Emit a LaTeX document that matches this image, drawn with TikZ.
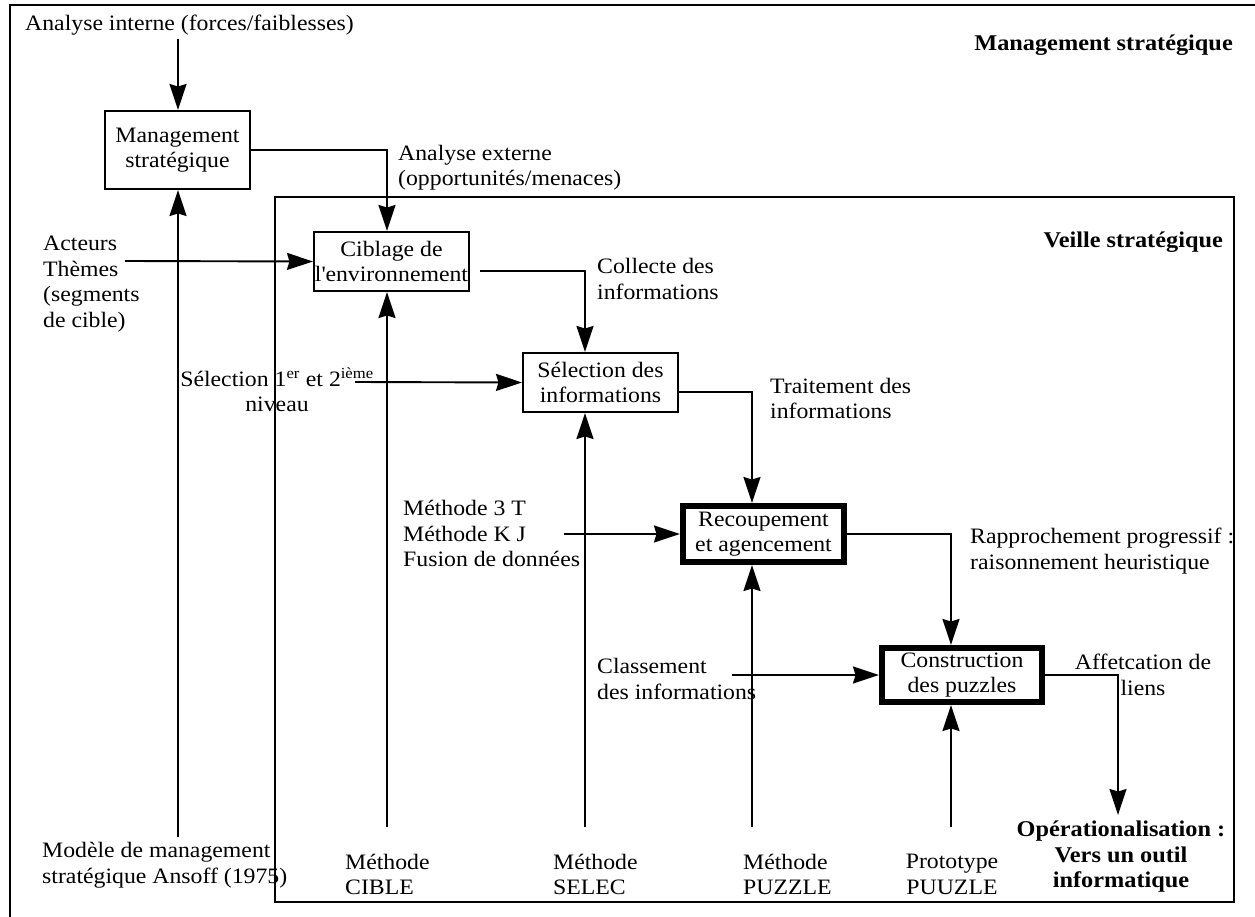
\documentclass[tikz,border=0pt]{standalone}
\usepackage{fontspec}
\setmainfont{Liberation Serif}[FakeStretch=1.08]
\usetikzlibrary{arrows.meta}
\begin{document}
\begin{tikzpicture}[x=1pt,y=-1pt,
  every node/.style={font=\fontsize{22}{25.5}\selectfont, inner sep=0pt},
  lbl/.style={align=left, anchor=west},
  clbl/.style={align=center},
  title/.style={font=\fontsize{22.5}{25.5}\selectfont\bfseries},
  procbox/.style={draw, line width=2pt, align=center, inner sep=1pt},
  keybox/.style={draw, line width=6pt, align=center, inner sep=1pt},
  arr/.style={-{Stealth[length=26pt,width=17pt,inset=2.5pt]}, line width=1.9pt},
  frame/.style={line width=1.8pt}]
\useasboundingbox (0,0) rectangle (1255,917);
\clip (0,0) rectangle (1255,917);
\fill[white] (0,0) rectangle (1255,917);

% outer frame (management) and inner frame (veille)
\draw[frame] (10,930) -- (10,5) -- (1270,5);
\draw[frame] (275,197) rectangle (1234,902);

% column positions of the vertical connectors
\coordinate (xm) at (178,0);
\coordinate (xc) at (387,0);
\coordinate (xs) at (585,0);
\coordinate (xp) at (752,0);
\coordinate (xq) at (951,0);
\coordinate (xo) at (1118,0);

% process boxes
\node[procbox, minimum width=145, minimum height=78] (mgmt) at (177.5,150) {Management\\stratégique};
\node[procbox, minimum width=155, minimum height=59] (cib) at (391.5,261.5) {Ciblage de\\l\textquotesingle environnement};
\node[procbox, minimum width=155, minimum height=59] (sel) at (600.5,382.5) {Sélection des\\informations};
\node[keybox, minimum width=161, minimum height=56] (rec) at (763.5,534) {Recoupement\\et agencement};
\node[keybox, minimum width=160, minimum height=54] (cons) at (962,675) {Construction\\des puzzles};

% titles
\node[title, anchor=east] (tms) at (1233,45) {Management stratégique};
\node[title, anchor=east] (tvs) at (1223,242) {Veille stratégique};

% labels
\node[lbl] (ai) at (25,25) {Analyse interne (forces/faiblesses)};
\node[lbl] (ae) at (398,167.5) {Analyse externe\\(opportunités/menaces)};
\node[lbl] (act) at (43,284) {Acteurs\\Thèmes\\(segments\\de cible)};
\node[lbl] (col) at (597,279) {Collecte des\\informations};
\node[clbl] (sn) at (277,390) {Sélection 1\textsuperscript{er} et 2\textsuperscript{ième}\\niveau};
\node[lbl] (tr) at (770,398.5) {Traitement des\\informations};
\node[lbl] (m3) at (403,533.5) {Méthode 3 T\\Méthode K J\\Fusion de données};
\node[lbl] (rap) at (970,551) {Rapprochement progressif :\\raisonnement heuristique};
\node[lbl] (cl) at (597,679) {Classement\\des informations};
\node[clbl] (aff) at (1143,675) {Affetcation de\\liens};
\node[clbl, title] (op) at (1121,857) {Opérationalisation :\\Vers un outil\\informatique};
\node[lbl] (mod) at (42,865) {Modèle de management\\stratégique Ansoff (1975)};
\node[lbl] (mc) at (345,874.5) {Méthode\\CIBLE};
\node[lbl] (ms) at (553,874.5) {Méthode\\SELEC};
\node[lbl] (mp) at (743,874.5) {Méthode\\PUZZLE};
\node[clbl] (pp) at (952,874.5) {Prototype\\PUUZLE};

% free ends of the connectors
\coordinate (aiend) at (178,39);
\coordinate (modend) at (178,837);
\coordinate (actend) at (125,261);
\coordinate (mcend) at (387,827);
\coordinate (snend) at (355,382);
\coordinate (msend) at (585,827);
\coordinate (m3end) at (564,534);
\coordinate (mpend) at (752,827);
\coordinate (clend) at (732,675);
\coordinate (ppend) at (951,827);
\coordinate (opend) at (1118,815);

% connectors
\draw[arr] (aiend) -- (mgmt.north -| xm);
\draw[arr] (modend) -- (mgmt.south -| xm);
\draw[arr] (mgmt.east) -| (cib.north -| xc);
\draw[arr] (actend) -- (cib.west);
\draw[arr] (mcend) -- (cib.south -| xc);
\draw[arr] ([xshift=10pt,yshift=-9.5pt]cib.east) -| (sel.north -| xs);
\draw[arr] (snend) -- (sel.west);
\draw[arr] (msend) -- (sel.south -| xs);
\draw[arr] ([yshift=-9.5pt]sel.east) -| (rec.north -| xp);
\draw[arr] (m3end) -- (rec.west);
\draw[arr] (mpend) -- (rec.south -| xp);
\draw[arr] (rec.east) -| (cons.north -| xq);
\draw[arr] (clend) -- (cons.west);
\draw[arr] (ppend) -- (cons.south -| xq);
\draw[arr] (cons.east) -| (opend);
\end{tikzpicture}
\end{document}
